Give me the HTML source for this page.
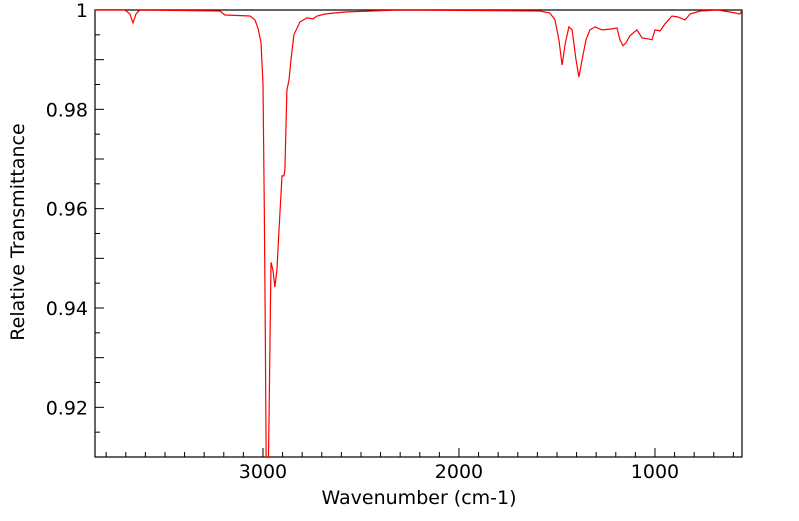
<!DOCTYPE html>
<html><head><meta charset="utf-8"><style>
body{margin:0;background:#fff;width:799px;height:516px;overflow:hidden}
svg{font-family:"DejaVu Sans","Liberation Sans",sans-serif}
</style></head><body>
<svg id="chart" width="799" height="516">
<g id="axes"></g>
<path id="line" fill="none" stroke="#ff0000" stroke-width="1.2"></path>
<text x="419" y="504" font-size="19" text-anchor="middle">Wavenumber (cm-1)</text>
<text transform="translate(24,232) rotate(-90)" font-size="19" text-anchor="middle">Relative Transmittance</text>
</svg>
<script>
const wavenumbers=[3857,3704,3679,3663,3648,3628,3219,3194,3066,3041,3026,3010,3000,2993,2988,2983,2980,2974,2969,2959,2949,2939,2929,2918,2903,2893,2888,2878,2867,2857,2842,2811,2776,2745,2724,2684,2582,2301,1587,1536,1510,1490,1474,1459,1439,1423,1403,1388,1372,1352,1332,1306,1270,1219,1194,1179,1163,1148,1128,1092,1066,1036,1015,1000,974,949,913,883,847,821,770,679,617,566,556];
const transmittance=[1,1,0.9992,0.9974,0.9992,1,0.9998,0.999,0.9988,0.998,0.9964,0.9935,0.985,0.96,0.935,0.905,0.905,0.905,0.9174,0.9492,0.9476,0.9442,0.9476,0.9557,0.9666,0.9666,0.9678,0.9839,0.9859,0.99,0.995,0.9976,0.9984,0.9982,0.9988,0.9992,0.9996,1,0.9998,0.9994,0.998,0.994,0.9889,0.993,0.9966,0.996,0.99,0.9865,0.99,0.994,0.996,0.9966,0.996,0.9962,0.9964,0.994,0.9928,0.9934,0.9948,0.996,0.9944,0.9942,0.994,0.996,0.9958,0.9972,0.9988,0.9986,0.998,0.9992,0.9998,1,0.9996,0.9992,1];
const xTicks=[3000,2000,1000];
const yTicks=[0.92,0.94,0.96,0.98,1];
const yTickLabels=["0.92","0.94","0.96","0.98","1"];
const L=95,R=742,T=10,B=457,wMax=3857,wMin=556,tMax=1,tMin=0.91;
const xs=w=>L+(wMax-w)/(wMax-wMin)*(R-L);
const ys=t=>T+(tMax-t)/(tMax-tMin)*(B-T);
const NS="http://www.w3.org/2000/svg";
const ax=document.getElementById('axes');
function mk(tag,attrs){const e=document.createElementNS(NS,tag);for(const k in attrs)e.setAttribute(k,attrs[k]);ax.appendChild(e);return e;}
const frame=mk('rect',{x:L,y:T,width:R-L,height:B-T,fill:'none',stroke:'#000','stroke-width':1.2});


for(let w=3800;w>=600;w-=100){const x=xs(w);const major=w%1000===0;
const t=mk('line',{x1:x,x2:x,y1:B,y2:B-(major?9:5),stroke:'#000','stroke-width':1});

}
xTicks.forEach(w=>{const t=mk('text',{x:xs(w),y:B+21,'font-size':19,'text-anchor':'middle'});t.textContent=String(w);

});
for(let v=0.915;v<1.0001;v+=0.005){const y=ys(v);const major=Math.abs(Math.round(v*100)-v*100)<1e-6;
const t=mk('line',{x1:L,x2:L+(major?9:5),y1:y,y2:y,stroke:'#000','stroke-width':1});

}
yTicks.forEach((v,i)=>{const t=mk('text',{x:L-7,y:ys(v)+7,'font-size':19,'text-anchor':'end'});t.textContent=yTickLabels[i];

});
const cp=mk('clipPath',{id:'clip'});const cr=document.createElementNS(NS,'rect');cr.setAttribute('x',L);cr.setAttribute('y',T);cr.setAttribute('width',R-L);cr.setAttribute('height',B-T);cp.appendChild(cr);
const line=document.getElementById('line');
line.setAttribute('clip-path','url(#clip)');
line.setAttribute('d',wavenumbers.map((w,i)=>(i?'L':'M')+xs(w).toFixed(1)+','+ys(transmittance[i]).toFixed(1)).join(''));
</script>
</body></html>
